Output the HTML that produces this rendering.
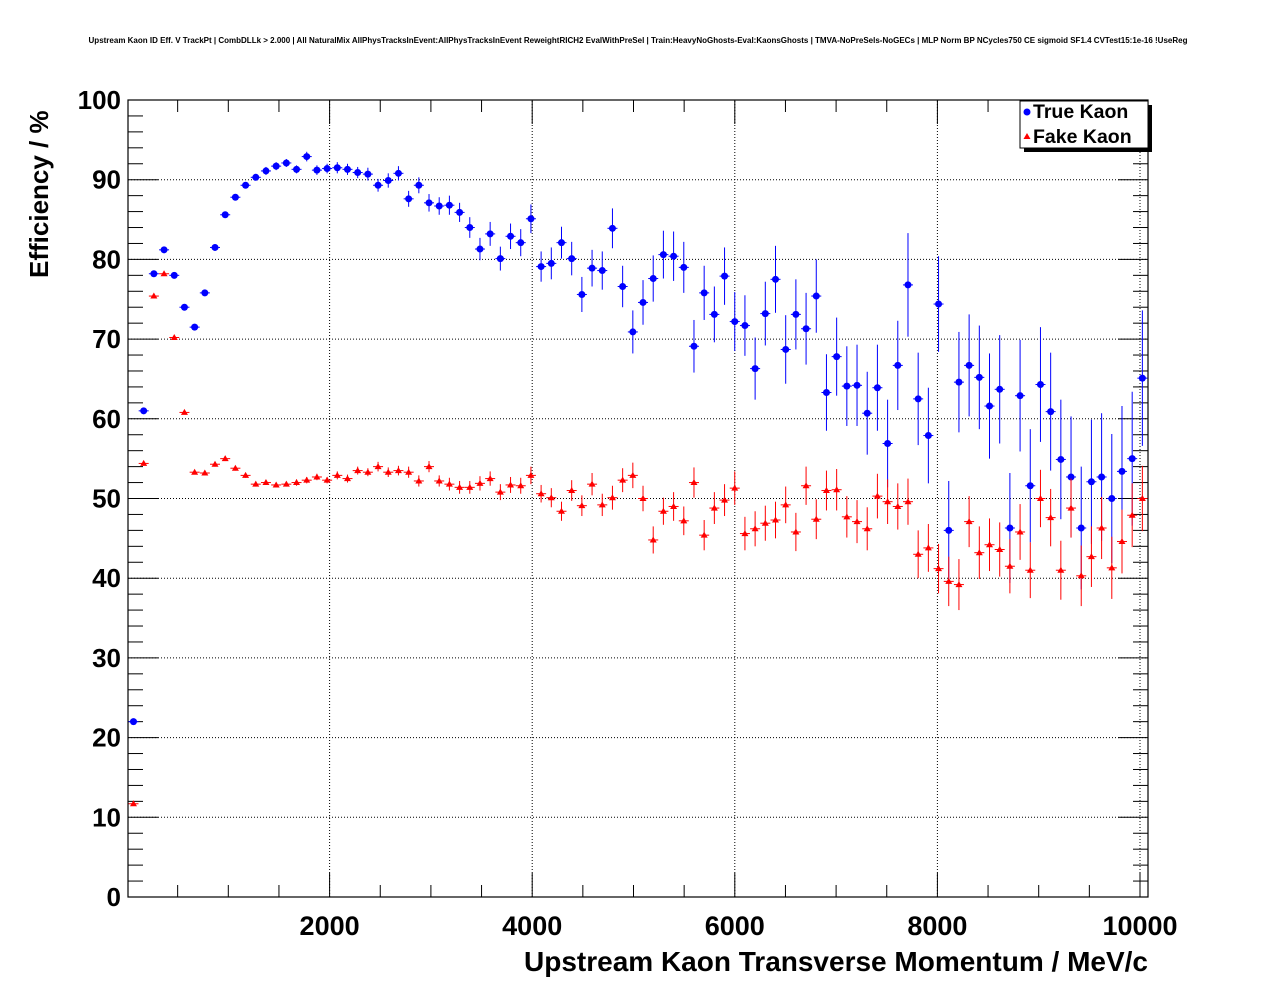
<!DOCTYPE html>
<html><head><meta charset="utf-8"><style>
body{margin:0;background:#fff;font-family:"Liberation Sans",sans-serif}
svg text{font-family:"Liberation Sans",sans-serif;font-weight:bold}
</style></head><body>
<svg id="c" width="1276" height="996" xmlns="http://www.w3.org/2000/svg">
<text x="638" y="43" font-size="8" text-anchor="middle">Upstream Kaon ID Eff. V TrackPt | CombDLLk &gt; 2.000 | All NaturalMix AllPhysTracksInEvent:AllPhysTracksInEvent ReweightRICH2 EvalWithPreSel | Train:HeavyNoGhosts-Eval:KaonsGhosts | TMVA-NoPreSels-NoGECs | MLP Norm BP NCycles750 CE sigmoid SF1.4 CVTest15:1e-16 !UseReg</text>
<g id="grid"></g>
<g id="axes"></g>
<g id="series"></g>
<text x="1148" y="971" font-size="28" text-anchor="end">Upstream Kaon Transverse Momentum / MeV/c</text>
<text transform="translate(48,278) rotate(-90)" font-size="26">Efficiency / %</text>
<g>
<rect x="1024" y="105" width="128" height="47" fill="#000"/>
<rect x="1020" y="101" width="128" height="47" fill="#fff" stroke="#000" stroke-width="1"/>
<circle cx="1027" cy="112" r="3.5" fill="#0000ff"/>
<text x="1033" y="118" font-size="19.5">True Kaon</text>
<polygon points="1027,133 1030.5,139 1023.5,139" fill="#ff0000"/>
<text x="1033" y="143" font-size="19.5">Fake Kaon</text>
</g>
</svg>
<script>
const trueVals=[22,61,78.2,81.2,78,74,71.5,75.8,81.5,85.6,87.8,89.3,90.3,91.1,91.7,92.1,91.3,92.9,91.2,91.4,91.5,91.3,90.9,90.7,89.3,89.9,90.8,87.6,89.3,87.1,86.7,86.8,85.9,84,81.3,83.2,80.1,82.9,82.1,85.1,79.1,79.5,82.1,80.1,75.6,78.9,78.6,83.9,76.6,70.9,74.6,77.6,80.6,80.4,79,69.1,75.8,73.1,77.9,72.2,71.7,66.3,73.2,77.5,68.7,73.1,71.3,75.4,63.3,67.8,64.1,64.2,60.7,63.9,56.9,66.7,76.8,62.5,57.9,74.4,46,64.6,66.7,65.2,61.6,63.7,46.3,62.9,51.6,64.3,60.9,54.9,52.7,46.3,52.1,52.7,50,53.4,55,65.1];
const trueErr=[0.4,0.4,0.4,0.4,0.4,0.4,0.4,0.4,0.4,0.4,0.4,0.4,0.4,0.5,0.5,0.5,0.5,0.6,0.6,0.6,0.7,0.7,0.7,0.8,0.8,0.9,0.9,1,1,1.1,1.1,1.2,1.2,1.3,1.4,1.5,1.5,1.6,1.7,1.8,1.9,2,2,2.1,2.2,2.3,2.4,2.5,2.6,2.7,2.8,2.9,3,3.1,3.2,3.3,3.4,3.5,3.6,3.7,3.8,3.9,4,4.2,4.3,4.4,4.5,4.6,4.8,4.9,5,5.1,5.2,5.4,5.5,5.6,6.5,5.8,6,6,6.2,6.3,6.4,6.5,6.6,6.8,6.9,7,7.1,7.2,7.4,7.5,7.6,7.7,7.8,8,8.1,8.2,8.4,8.5];
const fakeVals=[11.7,54.4,75.4,78.2,70.2,60.8,53.3,53.2,54.3,55,53.8,52.9,51.8,52,51.7,51.8,52,52.3,52.7,52.3,52.9,52.5,53.5,53.3,54,53.3,53.5,53.3,52.2,54,52.2,51.8,51.4,51.4,51.9,52.5,50.8,51.7,51.6,52.9,50.6,50.1,48.4,51,49.1,51.8,49.2,50.1,52.3,52.9,50,44.8,48.4,49,47.2,52,45.4,48.8,49.8,51.3,45.6,46.2,46.9,47.3,49.2,45.8,51.6,47.4,51,51.1,47.7,47.1,46.2,50.3,49.6,49,49.6,43,43.8,41.2,39.6,39.2,47.1,43.2,44.2,43.6,41.5,45.8,41,50,47.6,41,48.8,40.3,42.7,46.3,41.3,44.6,47.9,50];
const fakeErr=[0.2,0.2,0.2,0.2,0.2,0.2,0.2,0.2,0.3,0.3,0.3,0.3,0.3,0.3,0.3,0.3,0.4,0.4,0.4,0.4,0.5,0.5,0.5,0.5,0.6,0.6,0.6,0.7,0.7,0.7,0.7,0.8,0.8,0.8,0.9,0.9,1,1,1,1.1,1.1,1.2,1.2,1.3,1.3,1.4,1.4,1.5,1.5,1.6,1.6,1.7,1.7,1.8,1.8,1.9,1.9,2,2,2.1,2.1,2.2,2.2,2.3,2.3,2.4,2.4,2.5,2.5,2.6,2.6,2.7,2.7,2.8,2.8,2.9,2.9,3,3,3.1,3.1,3.2,3.2,3.3,3.3,3.4,3.4,3.5,3.5,3.6,3.6,3.7,3.7,3.8,3.8,3.9,3.9,4,4,4.1];
const binWidth=100.6;
const binStart=64;
const binCentres=trueVals.map((_,i)=>binStart+binWidth*i);
const xTicks=[2000,4000,6000,8000,10000];
const yTicks=[0,10,20,30,40,50,60,70,80,90,100];
const NS="http://www.w3.org/2000/svg";
const X0=128,X1=1148,Y0=897,Y1=100;
const xs=v=>127+v*0.1013;
const ys=v=>Y0-(v/100)*(Y0-Y1);
function mk(p,t,a){const e=document.createElementNS(NS,t);for(const k in a)e.setAttribute(k,a[k]);p.appendChild(e);return e;}
const grid=document.getElementById('grid'),axes=document.getElementById('axes'),ser=document.getElementById('series');
xTicks.forEach(t=>{const x=xs(t);
 const g=mk(grid,'line',{x1:x,x2:x,y1:Y0,y2:Y1,stroke:'#000','stroke-width':1,'stroke-dasharray':'1,2'});
 
 
 const l=mk(axes,'text',{x:x,y:935,'font-size':27,'text-anchor':'middle'});l.textContent=t;
 
 
});
yTicks.forEach(t=>{const y=ys(t);
 if(t>0&&t<100){const g=mk(grid,'line',{x1:X0,x2:X1,y1:y,y2:y,stroke:'#000','stroke-width':1,'stroke-dasharray':'1,2'});
 
 }
 const l=mk(axes,'text',{x:121,y:y+9,'font-size':26,'text-anchor':'end'});l.textContent=t;
 
 
});
for(let v=500;v<10100;v+=500){const x=xs(v);if(x>X1)break;const L=(v%2000===0)?24:12;
 mk(axes,'line',{x1:x,x2:x,y1:Y0,y2:Y0-L,stroke:'#000'});mk(axes,'line',{x1:x,x2:x,y1:Y1,y2:Y1+L,stroke:'#000'});}
for(let v=0;v<=100;v+=2){const y=ys(v);const L=(v%10===0)?30:15;
 mk(axes,'line',{x1:X0,x2:X0+L,y1:y,y2:y,stroke:'#000'});mk(axes,'line',{x1:X1,x2:X1-L,y1:y,y2:y,stroke:'#000'});}
const fr=mk(axes,'rect',{x:X0,y:Y1,width:X1-X0,height:Y0-Y1,fill:'none',stroke:'#000','stroke-width':1.2});


function draw(vals,errs,col,tri,name){
 vals.forEach((v,i)=>{const x=xs(binCentres[i]),y=ys(v),e=errs[i]*(Y0-Y1)/100;
  mk(ser,'line',{x1:x,x2:x,y1:y-e,y2:y+e,stroke:col,'stroke-width':1});
  mk(ser,'line',{x1:x-5,x2:x+5,y1:y,y2:y,stroke:col,'stroke-width':1});
  let m;
  if(tri)m=mk(ser,'polygon',{points:`${x},${y-3.5} ${x+3.5},${y+2.5} ${x-3.5},${y+2.5}`,fill:col});
  else m=mk(ser,'circle',{cx:x,cy:y,r:3.5,fill:col});
  
  
 });
}
draw(trueVals,trueErr,'#0000ff',false,'true-kaon-point');
draw(fakeVals,fakeErr,'#ff0000',true,'fake-kaon-point');
</script>
</body></html>
